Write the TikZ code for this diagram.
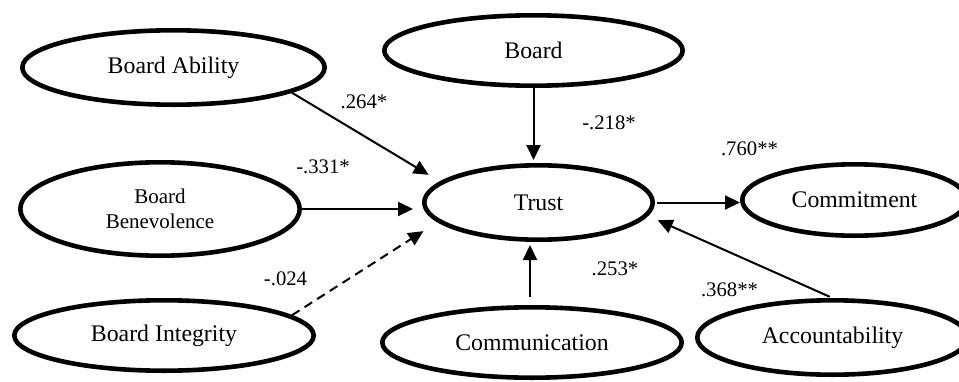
\documentclass[tikz,border=0pt]{standalone}
\usepackage{fontspec}
\setmainfont{Liberation Serif}
\usetikzlibrary{shapes.geometric,arrows.meta}
\begin{document}
\begin{tikzpicture}[x=1pt,y=-1pt,
  latent/.style={draw, ellipse, line width=4.6pt, inner sep=0pt},
  fmain/.style={font=\fontsize{23.8}{26}\selectfont},
  fsmall/.style={font=\fontsize{21}{25}\selectfont},
  pathar/.style={line width=2pt, -{Triangle[length=15pt,width=14pt]}},
  coef/.style={font=\fontsize{20.7}{23}\selectfont, anchor=base, inner sep=0pt},
]
\useasboundingbox (0,0) rectangle (959,381);

% latent variables
\node[latent, fmain, minimum width=302.4pt, minimum height=74.4pt] (ba) at (173.5,67.5) {Board Ability};
\node[latent, fsmall, align=center, minimum width=279.4pt, minimum height=93.4pt] (bb) at (160,209) {Board\\Benevolence};
\node[latent, fmain, minimum width=299.4pt, minimum height=70.4pt] (bi) at (164,335.5) {Board Integrity};
\node[latent, fmain, minimum width=298.4pt, minimum height=70.4pt] (board) at (533.5,50.5) {Board};
\node[latent, fmain, minimum width=228.4pt, minimum height=74.4pt] (trust) at (538.5,202.5) {Trust};
\node[latent, fmain, minimum width=224.4pt, minimum height=71.4pt] (commit) at (854.5,200) {Commitment};
\node[latent, fmain, minimum width=299.4pt, minimum height=70.4pt] (comm) at (532,342.5) {Communication};
\node[latent, fmain, minimum width=270.4pt, minimum height=74.4pt] (acc) at (832.5,337.5) {Accountability};

% paths
\draw[pathar, shorten >=13pt] (ba.-12) -- (trust.168);
\draw[pathar, shorten >=9pt] (bb.east) -- (bb.east -| trust.west);
\draw[pathar, dash pattern=on 9pt off 6pt, shorten >=16.7pt] (bi.9) -- (trust.191);
\draw[pathar, shorten >=3pt] (board.south) -- (board.south |- trust.north);
\draw[pathar, shorten <=8pt, shorten >=3pt] ([xshift=-2pt]comm.north) -- ([xshift=-2pt]comm.north |- trust.south);
\draw[pathar, shorten <=2pt] (trust.east) -- (trust.east -| commit.west);
\draw[pathar, shorten <=3pt, shorten >=10.6pt] (acc.north) -- (trust.-7);

% coefficients
\node[coef] (c1) at (364,108) {.264*};
\node[coef] (c2) at (323,173) {-.331*};
\node[coef] (c3) at (285.5,285) {-.024};
\node[coef] (c4) at (609,129) {-.218*};
\node[coef] (c5) at (749.5,155) {.760**};
\node[coef] (c6) at (615,275) {.253*};
\node[coef] (c7) at (729.5,296) {.368**};
\end{tikzpicture}
\end{document}
